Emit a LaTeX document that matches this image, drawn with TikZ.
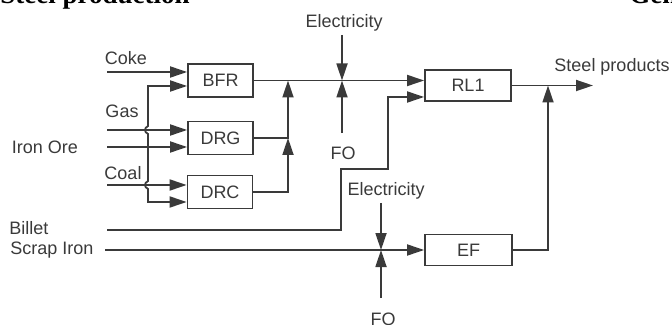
\documentclass[tikz,border=0pt]{standalone}
\usepackage{fontspec}
\setmainfont{Liberation Sans}
\newfontfamily\titlefont{Liberation Serif}
\usetikzlibrary{arrows.meta}
\definecolor{LineGray}{HTML}{3A3A3A}

\begin{document}
\begin{tikzpicture}[x=0.5pt,y=-0.5pt,
    every node/.style={align=center, text=LineGray, inner sep=1.5pt,
                       font=\fontsize{9}{10}\selectfont},
    >={Triangle[length=8.5pt,width=5.5pt]},
    unit/.style={draw=LineGray, line width=0.9pt, minimum width=32.5pt,
                 minimum height=16.5pt, inner sep=0pt},
    pipe/.style={draw=LineGray, line width=0.9pt},
    flow/.style={pipe, ->}]
  \clip (0,0) rectangle (672,325);
  % page headings, cut off by the crop
  \node[anchor=base west, inner sep=0pt, text=black,
        font=\titlefont\bfseries\fontsize{13.5}{15}\selectfont] (head) at (0,4) {Steel production};
  \node[anchor=base west, inner sep=0pt, text=black,
        font=\titlefont\bfseries\fontsize{13.5}{15}\selectfont] (headr) at (629,4) {Gen};

  % process units
  \node[unit] (bfr) at (220.5,80.5) {BFR};
  \node[unit] (drg) at (220.5,138) {DRG};
  \node[unit] (drc) at (220,192) {DRC};
  \node[unit, minimum width=43pt, minimum height=15.5pt] (rl1) at (468,85.5) {RL1};
  \node[unit, minimum width=43.5pt, minimum height=15.5pt] (ef) at (468.5,250) {EF};

  % labels
  \node (coke) at (126,58) {Coke};
  \node (gas) at (122,111) {Gas};
  \node (ore) at (45,147) {Iron Ore};
  \node (coal) at (123,173) {Coal};
  \node (billet) at (29,228) {Billet};
  \node (scrap) at (52,250) {Scrap Iron};
  \node (elec1) at (344,23) {Electricity};
  \node (fo1) at (343,153) {FO};
  \node (elec2) at (386,191) {Electricity};
  \node (fo2) at (383,319) {FO};
  \node (steel) at (612,67) {Steel products};

  % free ends and junctions
  \coordinate (cokein) at (107,72);
  \coordinate (gasin) at (107,130);
  \coordinate (orein) at (107,147);
  \coordinate (coalin) at (107,185);
  \coordinate (billetin) at (107,230);
  \coordinate (scrapin) at (105,250);
  \coordinate (busa) at (148,86);
  \coordinate (busb) at (148,202);
  \coordinate (m1) at (288,80.5);
  \coordinate (m2) at (342,80.5);
  \coordinate (m3) at (381,250);
  \coordinate (m4) at (548,85.5);
  \coordinate (b1) at (341,169);
  \coordinate (b2) at (388,97);
  \coordinate (prod) at (593,85.5);

  % raw materials
  \draw[flow] (cokein) -- (cokein -| bfr.west);
  \draw[flow] (gasin) -- (gasin -| drg.west);
  \draw[flow] (orein) -- (orein -| drg.west);
  \draw[flow] (coalin) -- (coalin -| drc.west);
  \draw[pipe, <->] (busa -| bfr.west) -- (busa) -- (148,126)
    .. controls (144,128) and (144,132) .. (148,134) -- (148,181)
    .. controls (144,183) and (144,187) .. (148,189) -- (busb) -- (busb -| drc.west);

  % iron making to rolling
  \draw[flow] (bfr.east) -- (bfr.east -| rl1.west);
  \draw[flow] (drg.east) -| (m1);
  \draw[flow] (drc.east) -| (m1 |- drg.east);
  \draw[flow] (m2 |- elec1.south) -- (m2);
  \draw[flow, shorten <=5pt] (m2 |- fo1.north) -- (m2);
  \draw[flow] (billetin) -| (b1) -| (b2) -- (b2 -| rl1.west);

  % electric furnace
  \draw[flow] (scrapin) -- (scrapin -| ef.west);
  \draw[flow] (m3 |- elec2.south) -- (m3);
  \draw[flow, shorten <=5.5pt] (m3 |- fo2.north) -- (m3);
  \draw[flow] (ef.east) -| (m4);
  \draw[flow] (rl1.east) -- (prod);
\end{tikzpicture}
\end{document}
